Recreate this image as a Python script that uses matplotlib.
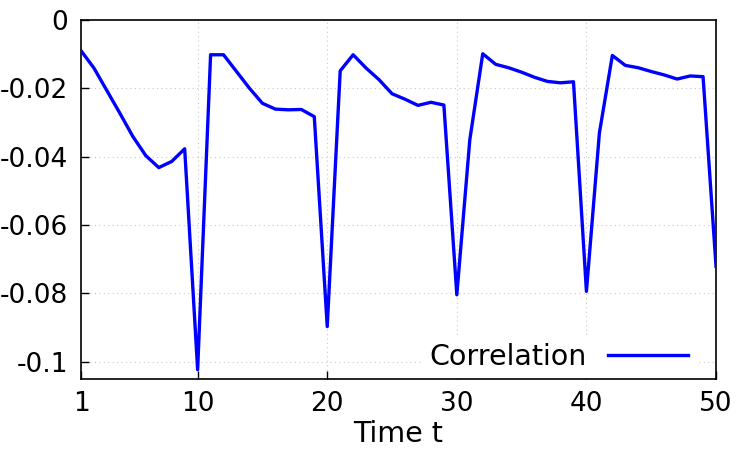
import numpy as np
import matplotlib
matplotlib.use('Agg')
import matplotlib.pyplot as plt

# correlation, t = 1..50
t = np.arange(1, 51)
corr = [-0.0090, -0.0141, -0.0207, -0.0273, -0.0341, -0.0397, -0.0432, -0.0414, -0.0377, -0.1023,
        -0.0102, -0.0102, -0.0151, -0.0200, -0.0244, -0.0261, -0.0263, -0.0262, -0.0283, -0.0897,
        -0.0149, -0.0102, -0.0141, -0.0175, -0.0216, -0.0232, -0.0250, -0.0241, -0.0249, -0.0804,
        -0.0351, -0.0099, -0.0130, -0.0140, -0.0153, -0.0168, -0.0180, -0.0184, -0.0181, -0.0794,
        -0.0331, -0.0104, -0.0133, -0.0140, -0.0151, -0.0161, -0.0173, -0.0164, -0.0166, -0.0721]

xticks = [1, 10, 20, 30, 40, 50]
yticks = [0, -0.02, -0.04, -0.06, -0.08, -0.1]
ytick_labels = ['0', '-0.02', '-0.04', '-0.06', '-0.08', '-0.1']

plt.rcParams['font.family'] = ['DejaVu Sans']
tick_fs = 19
label_fs = 20.5

fig = plt.figure(figsize=(7.5, 4.5), dpi=100)
ax = fig.add_axes([0.108, 0.158, 0.8467, 0.7978])

# dotted grid, kept under the legend box
for x in xticks[1:-1]:
    ax.axvline(x, color='#c8c8c8', lw=0.8, ls=(0, (1, 3)), zorder=1)
for y in yticks[1:]:
    ax.axhline(y, color='#c8c8c8', lw=0.8, ls=(0, (1, 3)), zorder=1)

ax.plot(t, corr, color='#0000ff', lw=2.4, label='Correlation', zorder=4)

ax.set_xlim(1, 50)
ax.set_ylim(-0.105, 0)
ax.set_xticks(xticks)
ax.set_yticks(yticks)
ax.set_yticklabels(ytick_labels)
ax.tick_params(direction='in', length=6, width=1, labelsize=tick_fs)
ax.tick_params(axis='x', pad=8.5)
ax.tick_params(axis='y', pad=9.5)
for s in ax.spines.values():
    s.set_linewidth(1.2)
ax.set_xlabel('Time t', fontsize=label_fs, labelpad=2.5)

leg = ax.legend(loc='lower right', bbox_to_anchor=(0.968, 0.0), borderaxespad=0,
                markerfirst=False, frameon=True, framealpha=1, edgecolor='none',
                fontsize=label_fs, handlelength=2.8, handletextpad=0.75, borderpad=0.28,
                fancybox=False)
leg.set_zorder(2)

fig.savefig('out.png', dpi=100)
